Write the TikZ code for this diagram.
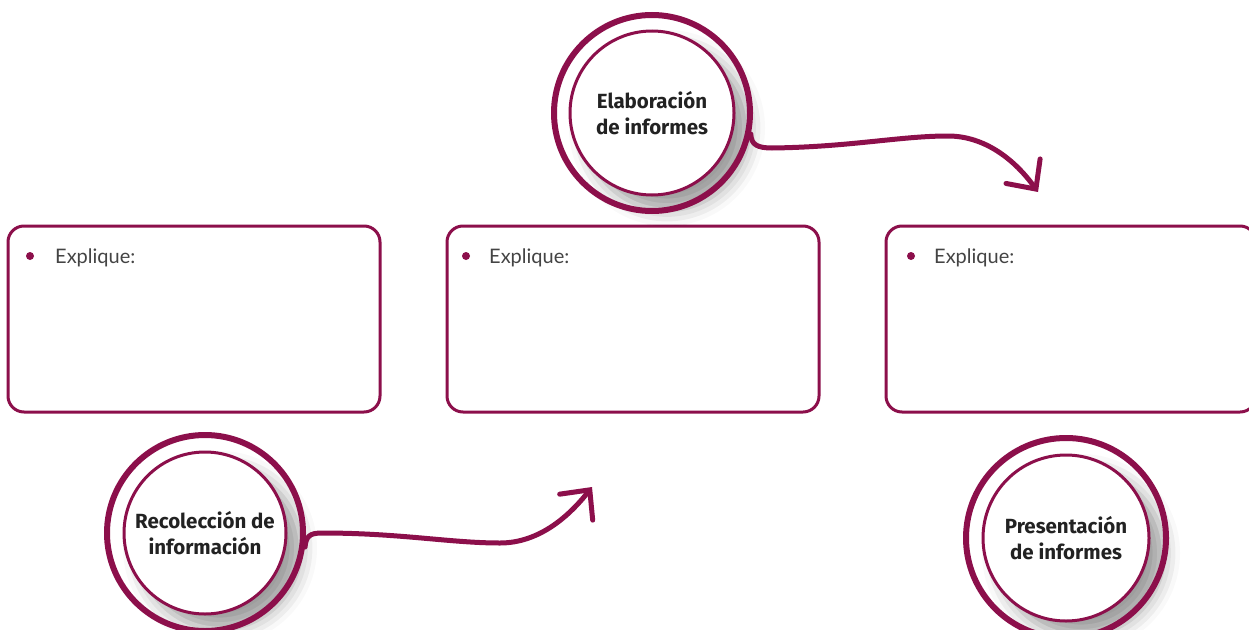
\documentclass[tikz,border=0pt]{standalone}
\usepackage{fontspec}
\setmainfont{Fira Sans}
\newfontfamily\bodyfont{Lato}
\usetikzlibrary{arrows.meta,shadows.blur}
\definecolor{wine}{HTML}{8C0F4B}
\definecolor{inktext}{HTML}{444444}
\definecolor{labeltext}{HTML}{222222}
\tikzset{
  infobox/.style={draw=wine, line width=3pt, rounded corners=16pt, fill=white},
  outerring/.style={circle, draw=wine, line width=6pt, inner sep=0pt},
  innerdisk/.style={circle, draw=wine, line width=3pt, fill=white, inner sep=0pt,
    align=center, font=\fontsize{20.5}{26}\selectfont\bfseries, text=labeltext},
  ringshadow/.style={blur shadow={shadow xshift=15pt, shadow yshift=-15pt,
    shadow blur radius=16pt, shadow opacity=38}},
  bulletdot/.style={circle, fill=wine, inner sep=0pt, minimum size=8pt},
  bullettext/.style={anchor=base west, inner sep=0pt, text=inktext,
    font=\bodyfont\fontsize{20}{24}\selectfont},
  flow/.style={draw=wine, line width=5pt, line cap=round, line join=round,
    -{Straight Barb[length=22pt,width=42pt,line width=5pt,line cap=round]}}
}
\begin{document}
\begin{tikzpicture}[x=1pt,y=-1pt]
\useasboundingbox (0,0) rectangle (1249,629);
\clip (0,0) rectangle (1249,629);

% three explanation boxes
\draw[infobox] (8,226) rectangle (380,412);
\draw[infobox] (447,226) rectangle (819,412);
\draw[infobox] (886,226) rectangle (1256,412);
\node[bulletdot] (b1) at (30,256) {};
\node[bulletdot] (b2) at (466,256) {};
\node[bulletdot] (b3) at (911,256) {};
\node[bullettext] (t1) at (55,263) {Explique:};
\node[bullettext] (t2) at (489,263) {Explique:};
\node[bullettext] (t3) at (934,263) {Explique:};

% soft shadows under the inner disks
\path[ringshadow] (652,113) circle[radius=82];
\path[ringshadow] (205,533) circle[radius=81];
\path[ringshadow] (1066,538) circle[radius=83];

% stage circles: outer ring + inner disk with label
\node[outerring, minimum size=196pt] (elabring) at (652,113) {};
\node[innerdisk, minimum size=164pt] (elab) at (652,113) {Elaboración\\de informes};

\node[outerring, minimum size=196pt] (recring) at (205,533) {};
\node[innerdisk, minimum size=162pt] (rec) at (205,533) {Recolección de\\información};

\node[outerring, minimum size=200pt] (presring) at (1066,538) {};
\node[innerdisk, minimum size=166pt] (pres) at (1066,538) {Presentación\\de informes};

% arrow ends
\coordinate (tipA) at (1038,192);
\coordinate (tipB) at (592,487);

% connectors
\draw[flow] (elabring.-12) .. controls (751,145) and (758,148) .. (772,148)
  .. controls (850,147) and (900,136) .. (948,136)
  .. controls (985,136) and (1015,160) .. (tipA);
\draw[flow] (recring.-8) .. controls (306,536) and (310,533) .. (322,533)
  .. controls (400,533) and (450,543) .. (500,543)
  .. controls (540,543) and (570,515) .. (tipB);
\end{tikzpicture}
\end{document}
